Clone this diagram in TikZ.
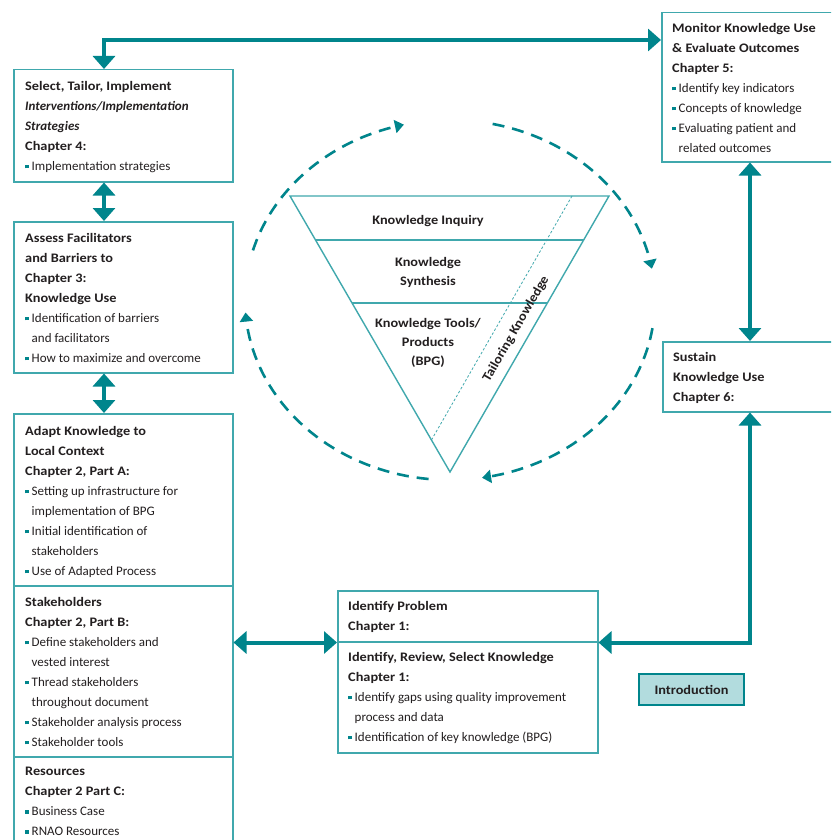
\documentclass[tikz,border=0pt]{standalone}
\usepackage{fontspec}
\setmainfont{Carlito}[BoldFeatures={FakeStretch=1.1}]
\usetikzlibrary{arrows.meta,calc,positioning}

\definecolor{kteal}{RGB}{0,133,140}
\definecolor{kline}{RGB}{64,168,173}
\definecolor{kfill}{RGB}{178,220,222}
\definecolor{kink}{RGB}{35,31,32}

\newcommand{\bul}{\textcolor{kteal}{\rule[2pt]{3.5pt}{3.5pt}}\hspace{3pt}}
\newcommand{\cont}{\hspace*{6.5pt}}

\tikzset{
  frame/.style={draw=kline,line width=1.5pt,anchor=north west,inner sep=0pt},
  boxtext/.style={anchor=north west,align=left,inner sep=0pt,text=kink,
    font=\fontsize{13}{20}\selectfont},
  tritext/.style={align=center,inner sep=0pt,text=kink,
    font=\fontsize{13}{19}\selectfont\bfseries},
  twoway/.style={draw=kteal,line width=4pt,
    {Triangle[width=22pt,length=13pt]}-{Triangle[width=22pt,length=13pt]}},
  loopdash/.style={draw=kteal,line width=2.6pt,dash pattern=on 12pt off 8pt,
    -{Triangle[width=13pt,length=9pt]}},
  tri/.style={draw=kline,line width=1.4pt}
}

\begin{document}
\begin{tikzpicture}[x=1pt,y=-1pt]
\useasboundingbox (0,0) rectangle (831,840);
\clip (0,0) rectangle (831,840);
\fill[white] (0,0) rectangle (831,840);

% frames
\node[frame,minimum width=219pt,minimum height=112pt] (select) at (13,69) {};
\node[frame,minimum width=219pt,minimum height=151pt] (assess) at (13,221) {};
\node[frame,minimum width=219pt,minimum height=172pt] (adapt) at (13,413) {};
\node[frame,minimum width=219pt,minimum height=171pt] (stake) at (13,585) {};
\node[frame,minimum width=219pt,minimum height=100pt] (resource) at (13,756) {};
\node[frame,minimum width=180pt,minimum height=149pt] (monitor) at (661,12) {};
\node[frame,minimum width=180pt,minimum height=70pt] (sustain) at (662,341) {};
\node[frame,minimum width=260pt,minimum height=51pt] (problem) at (337,590) {};
\node[frame,minimum width=260pt,minimum height=111pt] (review) at (337,641) {};
\node[frame,draw=kteal,line width=2pt,fill=kfill,minimum width=105pt,minimum height=31pt,
  font=\fontsize{13}{20}\selectfont\bfseries,text=kink] (intro) at (638,673) {Introduction};

% texts
\node[boxtext] (selectT) at (25,81) {\textbf{Select, Tailor, Implement}\\
  \textbf{\textit{Interventions/Implementation}}\\
  \textbf{\textit{Strategies}}\\
  \textbf{Chapter 4:}\\
  \bul Implementation strategies};
\node[boxtext] (assessT) at (25,233) {\textbf{Assess Facilitators}\\
  \textbf{and Barriers to}\\
  \textbf{Chapter 3:}\\
  \textbf{Knowledge Use}\\
  \bul Identification of barriers\\
  \cont and facilitators\\
  \bul How to maximize and overcome};
\node[boxtext] (adaptT) at (25,426) {\textbf{Adapt Knowledge to}\\
  \textbf{Local Context}\\
  \textbf{Chapter 2, Part A:}\\
  \bul Setting up infrastructure for\\
  \cont implementation of BPG\\
  \bul Initial identification of\\
  \cont stakeholders\\
  \bul Use of Adapted Process};
\node[boxtext] (stakeT) at (25,597) {\textbf{Stakeholders}\\
  \textbf{Chapter 2, Part B:}\\
  \bul Define stakeholders and\\
  \cont vested interest\\
  \bul Thread stakeholders\\
  \cont throughout document\\
  \bul Stakeholder analysis process\\
  \bul Stakeholder tools};
\node[boxtext] (resourceT) at (25,767) {\textbf{Resources}\\
  \textbf{Chapter 2 Part C:}\\
  \bul Business Case\\
  \bul RNAO Resources};
\node[boxtext] (monitorT) at (672,23) {\textbf{Monitor Knowledge Use}\\
  \textbf{\& Evaluate Outcomes}\\
  \textbf{Chapter 5:}\\
  \bul Identify key indicators\\
  \bul Concepts of knowledge\\
  \bul Evaluating patient and\\
  \cont related outcomes};
\node[boxtext] (sustainT) at (673,352) {\textbf{Sustain}\\
  \textbf{Knowledge Use}\\
  \textbf{Chapter 6:}};
\node[boxtext] (problemT) at (348,601) {\textbf{Identify Problem}\\
  \textbf{Chapter 1:}};
\node[boxtext] (reviewT) at (348,652) {\textbf{Identify, Review, Select Knowledge}\\
  \textbf{Chapter 1:}\\
  \bul Identify gaps using quality improvement\\
  \cont process and data\\
  \bul Identification of key knowledge (BPG)};

% rails for the solid arrows
\coordinate (railL) at (104,0);
\coordinate (railR) at (750,0);
\coordinate (railT) at (0,40);

\draw[twoway] (select.north -| railL) |- (railT -| monitor.west);
\draw[twoway] (select.south -| railL) -- (assess.north -| railL);
\draw[twoway] (assess.south -| railL) -- (adapt.north -| railL);
\draw[twoway] (monitor.south -| railR) -- (sustain.north -| railR);
\draw[twoway] (sustain.south -| railR) |- (problem.south east);
\draw[twoway] (problem.south west -| stake.east) -- (problem.south west);

% funnel
\coordinate (tl) at (290,196);
\coordinate (tr) at (609,196);
\coordinate (tb) at (450,472);
\coordinate (tk) at (572,196);
\draw[tri] (tl) -- (tr) -- (tb) -- cycle;
\draw[tri] ($(tl)!0.159!(tb)$) -- ($(tr)!0.159!(tb)$);
\draw[tri] ($(tl)!0.388!(tb)$) -- ($(tr)!0.388!(tb)$);
\draw[kline,line width=0.8pt,dash pattern=on 2.5pt off 2pt] (tk) -- ($(tl)!0.884!(tb)$);

\node[tritext] (inquiry) at (428,221) {Knowledge Inquiry};
\node[tritext] (synth) at (428,272) {Knowledge\\Synthesis};
\node[tritext] (tools) at (428,343) {Knowledge Tools/\\Products\\(BPG)};
\node[tritext,rotate=60] (tailor) at (516,329) {Tailoring Knowledge};

% dashed cycle
\draw[loopdash] plot[domain=196:257,samples=40] ({450+205*cos(\x)},{300+180*sin(\x)});
\draw[loopdash] plot[domain=282:350,samples=40] ({450+205*cos(\x)},{300+180*sin(\x)});
\draw[loopdash] plot[domain=9:81,samples=40] ({450+205*cos(\x)},{300+180*sin(\x)});
\draw[loopdash] plot[domain=96:176,samples=40] ({450+205*cos(\x)},{300+180*sin(\x)});
\end{tikzpicture}
\end{document}
